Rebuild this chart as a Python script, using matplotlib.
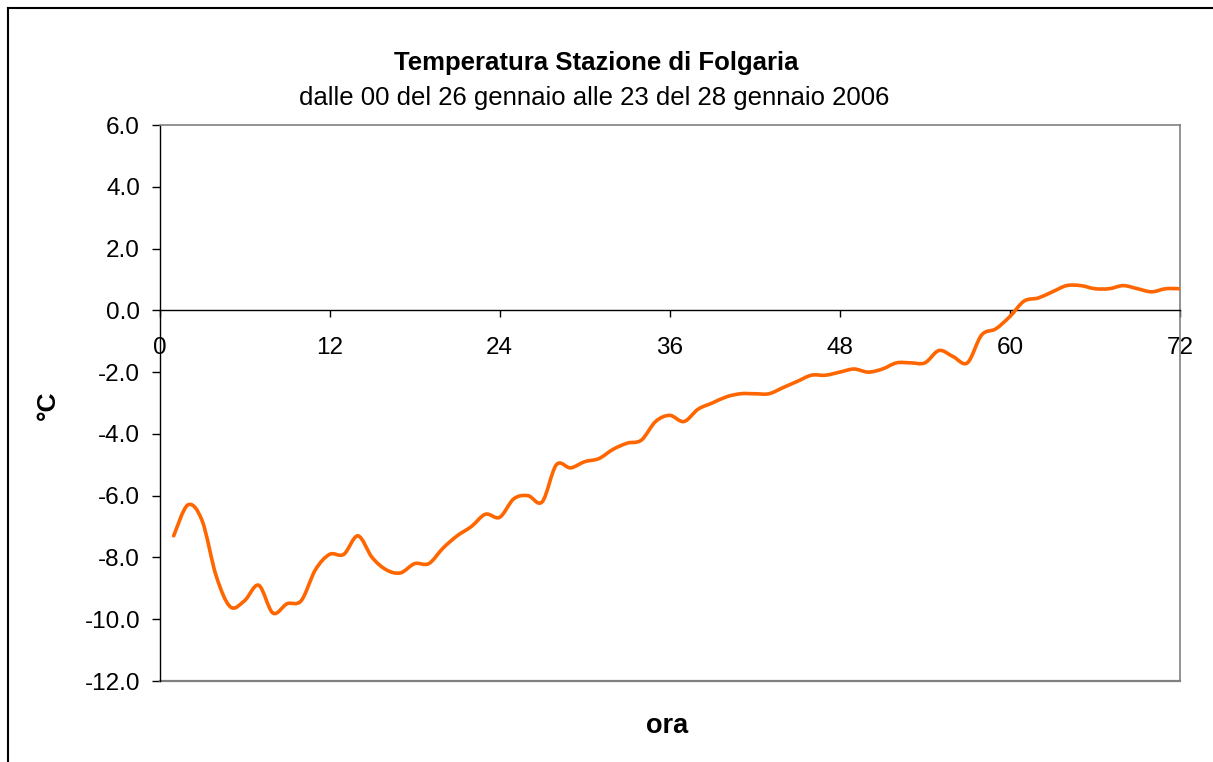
import matplotlib
matplotlib.use("Agg")
import matplotlib.pyplot as plt
from matplotlib.lines import Line2D
from matplotlib.path import Path
from matplotlib.patches import PathPatch
from matplotlib.ticker import FormatStrFormatter

plt.rcParams['font.family'] = ['Liberation Sans', 'DejaVu Sans']
plt.rcParams['axes.unicode_minus'] = False

title = "Temperatura Stazione di Folgaria"
subtitle = "dalle 00 del 26 gennaio alle 23 del 28 gennaio 2006"
xlabel = "ora"
ylabel = "°C"

hours = list(range(1, 73))
temps = [-7.3, -6.3, -6.8, -8.6, -9.6, -9.4, -8.9, -9.8, -9.5, -9.4,
         -8.4, -7.9, -7.9, -7.3, -8.0, -8.4, -8.5, -8.2, -8.2, -7.7,
         -7.3, -7.0, -6.6, -6.7, -6.1, -6.0, -6.2, -5.0, -5.1, -4.9,
         -4.8, -4.5, -4.3, -4.2, -3.6, -3.4, -3.6, -3.2, -3.0, -2.8,
         -2.7, -2.7, -2.7, -2.5, -2.3, -2.1, -2.1, -2.0, -1.9, -2.0,
         -1.9, -1.7, -1.7, -1.7, -1.3, -1.5, -1.7, -0.8, -0.6, -0.2,
         0.3, 0.4, 0.6, 0.8, 0.8, 0.7, 0.7, 0.8, 0.7, 0.6,
         0.7, 0.7]

xticks = [0, 12, 24, 36, 48, 60, 72]
yticks = [-12.0, -10.0, -8.0, -6.0, -4.0, -2.0, 0.0, 2.0, 4.0, 6.0]

W, H = 1213, 762
fig = plt.figure(figsize=(W / 100, H / 100), dpi=100)
ax = fig.add_axes([159.5 / W, 1 - 681 / H, (1180 - 159.5) / W, (681 - 125) / H])

# smoothed line (Bezier through the data points, like a spreadsheet "smoothed line")
n = len(hours)
verts = [(hours[0], temps[0])]
codes = [Path.MOVETO]
for i in range(n - 1):
    xm, ym = (hours[i - 1], temps[i - 1]) if i > 0 else (hours[i], temps[i])
    x0, y0 = hours[i], temps[i]
    x1, y1 = hours[i + 1], temps[i + 1]
    xp, yp = (hours[i + 2], temps[i + 2]) if i + 2 < n else (x1, y1)
    c1 = (x0 + (x1 - xm) / 6.0, y0 + (y1 - ym) / 6.0)
    c2 = (x1 - (xp - x0) / 6.0, y1 - (yp - y0) / 6.0)
    verts += [c1, c2, (x1, y1)]
    codes += [Path.CURVE4] * 3
ax.add_patch(PathPatch(Path(verts, codes), fill=False, edgecolor='#FF6600',
                       linewidth=2.6, joinstyle='round', capstyle='round', zorder=3))

ax.set_xlim(0, 72)
ax.set_ylim(-12, 6)

gray = '#808080'
ax.spines['left'].set_color('black')
ax.spines['left'].set_linewidth(1.0)
for s in ['top', 'right']:
    ax.spines[s].set_color(gray)
    ax.spines[s].set_linewidth(1.2)
ax.spines['bottom'].set_position(('data', 0))
ax.spines['bottom'].set_color('black')
ax.spines['bottom'].set_linewidth(1.0)
ax.axhline(-12, color=gray, linewidth=1.6, clip_on=False, zorder=2)

ax.set_xticks(xticks)
ax.set_xticklabels([str(t) for t in xticks])
ax.set_yticks(yticks)
ax.yaxis.set_major_formatter(FormatStrFormatter('%.1f'))
ax.tick_params(axis='x', direction='out', length=5, width=1, pad=14, labelsize=17.5, colors='black')
ax.tick_params(axis='y', direction='out', length=6, width=1, pad=8, labelsize=17.5, colors='black')

fig.text(596 / W, 1 - 63 / H, title, ha='center', va='center', fontsize=18.5, fontweight='bold')
fig.text(594 / W, 1 - 98 / H, subtitle, ha='center', va='center', fontsize=18.5)
fig.text(48 / W, 1 - 405 / H, ylabel, ha='center', va='center', fontsize=19, fontweight='bold', rotation=90)
fig.text(667 / W, 1 - 726 / H, xlabel, ha='center', va='center', fontsize=19.5, fontweight='bold')

x0 = 8 / W
y0 = 1 - 8 / H
fig.add_artist(Line2D([x0, x0], [0, y0], color='black', linewidth=1.5, transform=fig.transFigure))
fig.add_artist(Line2D([x0, 1], [y0, y0], color='black', linewidth=1.5, transform=fig.transFigure))

fig.savefig('out.png', dpi=100)
